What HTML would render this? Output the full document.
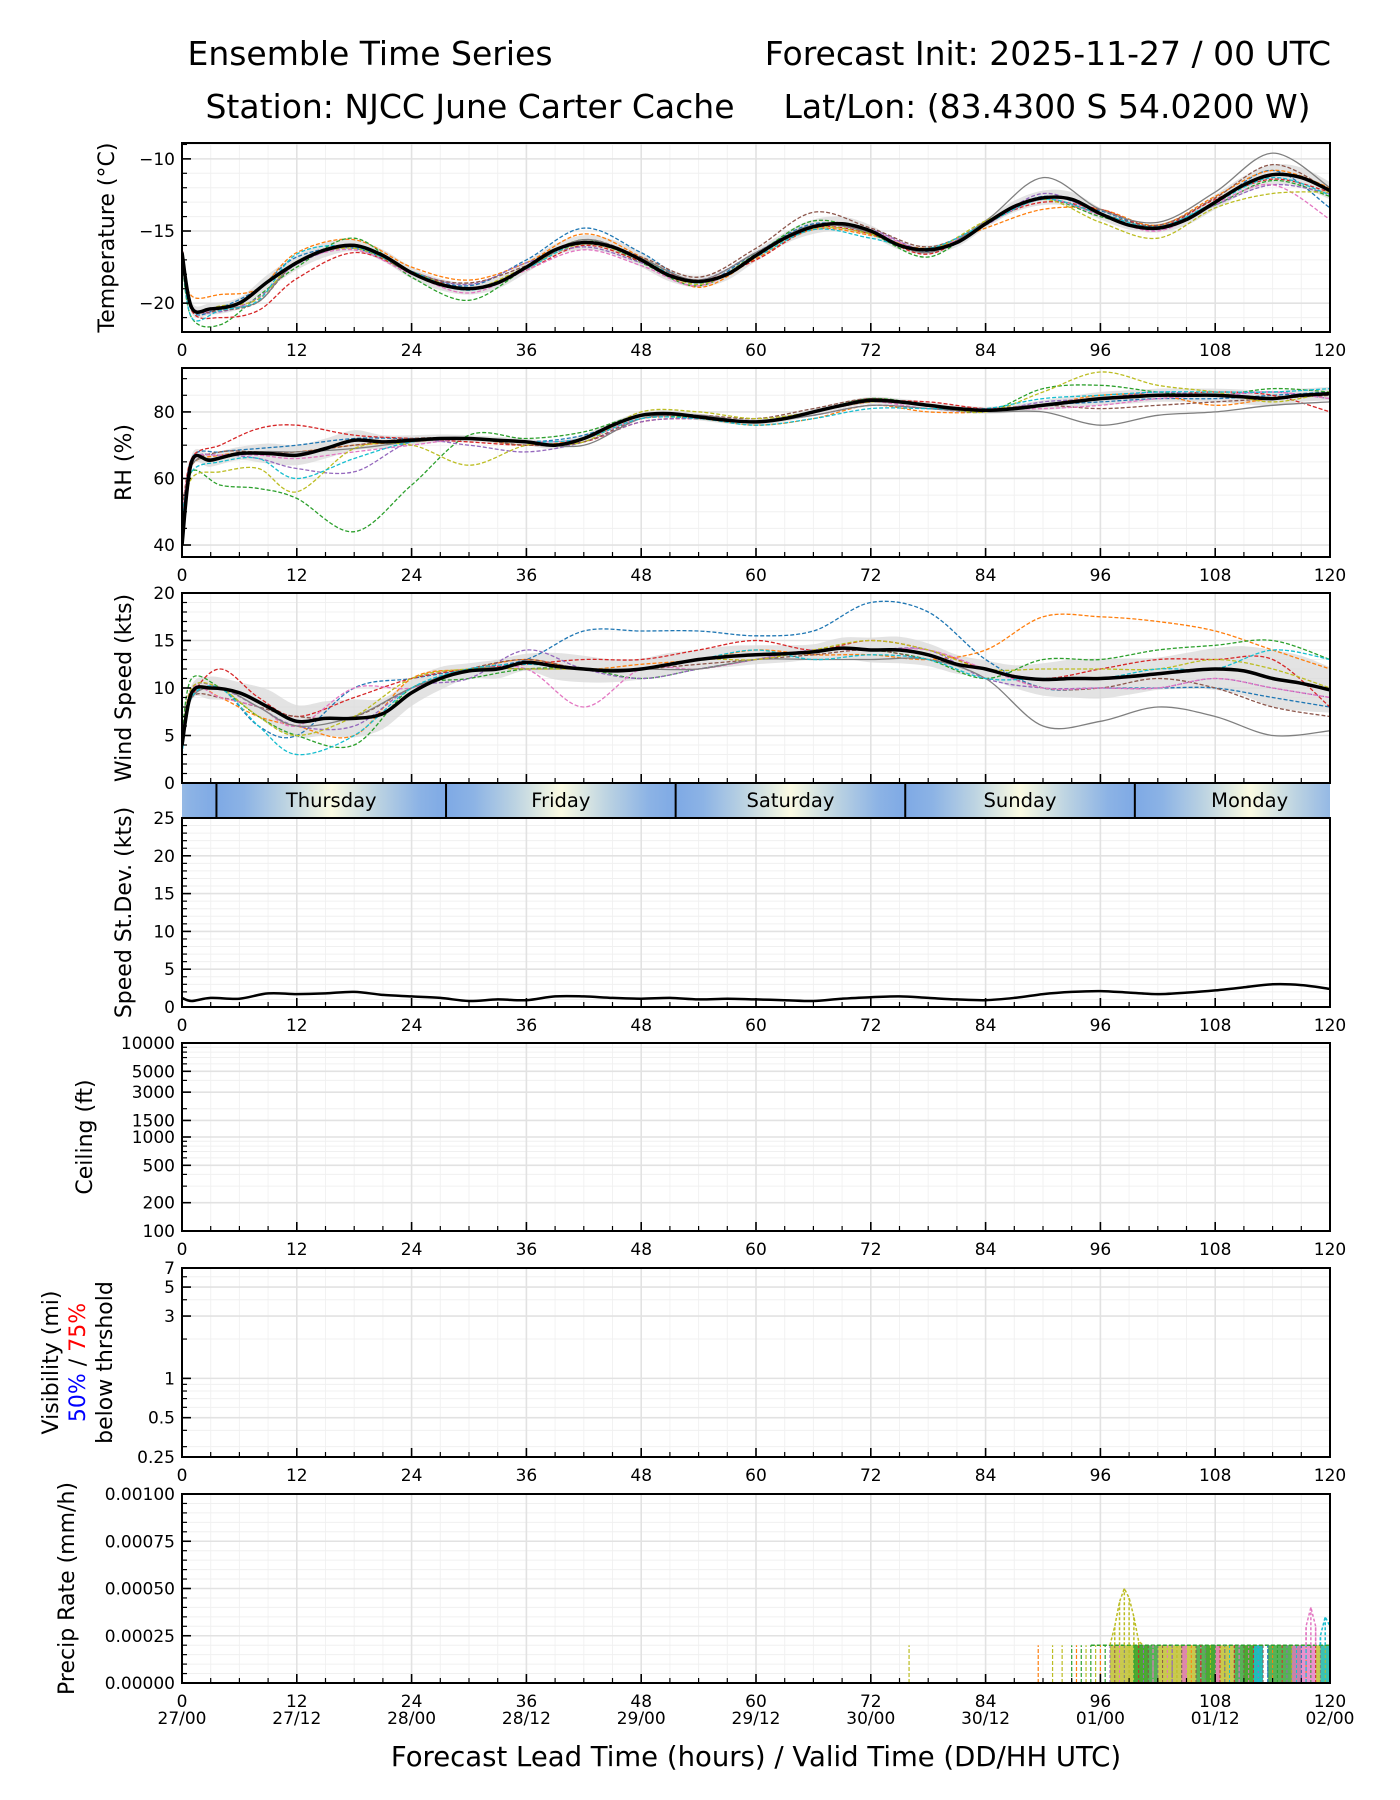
<!DOCTYPE html>
<html><head><meta charset="utf-8"><style>
html,body{margin:0;padding:0;background:#fff;}
svg{display:block;font-family:"DejaVu Sans","Liberation Sans",sans-serif;}
</style></head><body>
<svg id="fig" width="1400" height="1800" viewBox="0 0 1400 1800">
<text x="370" y="65" font-size="33" text-anchor="middle">Ensemble Time Series</text>
<text x="1331" y="65" font-size="33" text-anchor="end">Forecast Init: 2025-11-27 / 00 UTC</text>
<text x="470" y="118" font-size="33" text-anchor="middle">Station: NJCC June Carter Cache</text>
<text x="1047" y="118" font-size="33" text-anchor="middle">Lat/Lon: (83.4300 S 54.0200 W)</text>
<text x="756" y="1766" font-size="27.5" text-anchor="middle">Forecast Lead Time (hours) / Valid Time (DD/HH UTC)</text>
<g id="root"></g>
</svg>
<script>
// ---- data ----
const meanHours=[0,1,3,6,9,12,15,18,21,24,27,30,33,36,39,42,45,48,51,54,57,60,63,66,69,72,75,78,81,84,87,90,93,96,99,102,105,108,111,114,117,120];
const tempMean=[-16.5,-20.3,-20.4,-20.0,-18.5,-17.2,-16.3,-16.0,-16.7,-17.9,-18.7,-19.0,-18.6,-17.5,-16.3,-15.8,-16.1,-17.0,-18.1,-18.5,-18.0,-16.7,-15.5,-14.7,-14.5,-15.0,-16.0,-16.3,-15.8,-14.5,-13.3,-12.7,-12.8,-13.8,-14.6,-14.8,-14.2,-13.0,-11.8,-11.1,-11.3,-12.2];
const tempSpread=[0.5,0.4,0.4,0.4,0.5,0.5,0.5,0.4,0.4,0.4,0.4,0.4,0.4,0.4,0.4,0.5,0.5,0.5,0.4,0.4,0.4,0.4,0.4,0.5,0.5,0.4,0.3,0.3,0.3,0.3,0.4,0.5,0.5,0.4,0.3,0.3,0.4,0.5,0.6,0.7,0.7,0.6];
const rhMean=[40,65,65.5,67.5,67.5,67,69,71.5,71,71.5,72,72,71.5,71,70,72,76,79,79.5,78.5,77.5,77,78,80,82,83.5,83,82,81,80.5,81,82,83,84,84.5,85,85,85,84.5,84,85,85.5];
const rhSpread=[3,2,2,2,3,3,3,3,2,1.5,1.2,1,1,1,1.2,1.2,1,1,1,1,1,1,1,1,1,1,1,1,1,1,1.2,1.5,1.8,2,2,2,2,2,2.2,2.2,2,2];
const windMean=[4,9.5,10,9.5,8,6.5,6.8,6.8,7.3,9.5,11,11.8,12,12.7,12.3,12,11.8,12,12.5,13,13.3,13.5,13.6,13.8,14.2,14,14,13.5,12.5,12,11.2,10.9,11,11,11.2,11.5,11.8,12,11.8,11,10.5,9.8];
const stdevMean=[1.2,0.8,1.2,1.1,1.8,1.7,1.8,2.0,1.6,1.4,1.2,0.8,1.0,0.9,1.4,1.4,1.2,1.1,1.2,1.0,1.1,1.0,0.9,0.8,1.1,1.3,1.4,1.2,1.0,0.9,1.2,1.7,2.0,2.1,1.9,1.7,1.9,2.2,2.6,3.0,2.9,2.4];
const memberHours=[0,1,4,8,12,18,24,30,36,42,48,54,60,66,72,78,84,90,96,102,108,114,120];
const memberColors=['#1f77b4','#ff7f0e','#2ca02c','#d62728','#9467bd','#8c564b','#e377c2','#7f7f7f','#bcbd22','#17becf'];
const memberDashed=[true,true,true,true,true,true,true,false,true,true];
const tempM1=[-16,-20.5,-20.3,-19,-16.8,-16.2,-17.8,-18.8,-17,-14.8,-16.5,-18.6,-16.5,-14.5,-15.1,-16.4,-14.5,-12.6,-13.6,-14.7,-13,-10.8,-13.4];
const tempM2=[-17,-19.5,-19.4,-19,-16.5,-15.6,-17.5,-18.4,-17.2,-15.2,-16.8,-18.9,-16.9,-14.9,-15.3,-16.2,-14.8,-13.5,-13.5,-14.6,-12.6,-10.8,-12];
const tempM3=[-17,-21,-21.5,-19.5,-17.5,-15.5,-18.2,-19.8,-17.6,-15.6,-17.2,-18.8,-16.6,-14.3,-15.2,-16.8,-14.4,-12.8,-14,-14.8,-13.2,-11.5,-12.6];
const tempM4=[-16,-20.5,-21,-20.5,-18.3,-16.5,-17.8,-19,-17.7,-16,-17.1,-18.4,-17,-14.8,-15.2,-16.6,-14.4,-13,-13.5,-14.7,-12.8,-11.4,-12.3];
const tempM5=[-16.5,-20.2,-20.6,-19.6,-17.3,-16.1,-17.8,-18.7,-17.2,-16.1,-17.2,-18.4,-16.5,-14.6,-14.9,-16.3,-14.6,-12.4,-13.8,-14.9,-13.2,-11.8,-12.4];
const tempM6=[-16.5,-20.3,-20.5,-19.9,-17.2,-16,-17.9,-18.6,-17.4,-15.6,-16.8,-18.2,-16.2,-13.7,-14.8,-16.1,-14.5,-12.8,-13.8,-14.6,-12.7,-10.4,-12.2];
const tempM7=[-16.5,-20.4,-20.3,-19.7,-17.2,-16.3,-18,-19.3,-17.7,-16.3,-17.4,-18.8,-16.7,-14.6,-15,-16.3,-14.5,-12.8,-13.9,-15,-13.1,-11.8,-14.2];
const tempM8=[-16.5,-20.3,-20.3,-19.9,-17.1,-16,-17.9,-19,-17.6,-15.6,-16.9,-18.4,-16.5,-14.6,-15.1,-16.5,-14.3,-11.3,-13.5,-14.4,-12.3,-9.6,-12.0];
const tempM9=[-16.5,-20.4,-20.2,-19.7,-17.1,-16.2,-17.8,-19,-17.5,-15.9,-17,-18.7,-16.7,-14.8,-15.2,-16.3,-14.3,-12.8,-14.4,-15.5,-13.4,-12.4,-12.3];
const tempM10=[-16.5,-21,-20.5,-19.8,-16.6,-16.1,-17.8,-19.1,-17.6,-15.8,-17,-18.6,-16.8,-14.9,-15.5,-16.2,-14.5,-12.8,-13.8,-14.7,-13,-11.3,-12.5];
const rhM1=[45,66,68,69,70,72,72,72,71,73,79,79,77,80,83,82,80,82,83,84,84,85,86];
const rhM2=[50,64,67,68,68,70,71,72,70,72,78,78,76,78,82,80,80,82,85,85,82,84,85];
const rhM3=[45,62,58,57,54,44,58,73,72,74,79,78,77,80,84,82,80,87,88,86,85,87,86];
const rhM4=[48,66,70,75,76,73,72,71,70,71,77,78,77,80,83,83,81,82,84,85,86,85,80];
const rhM5=[45,65,67,66,63,62,71,70,68,71,77,78,77,79,82,81,80,83,84,86,85,86,84];
const rhM6=[50,64,68,68,68,70,72,72,70,71,78,79,78,81,84,82,81,82,81,82,83,84,85];
const rhM7=[47,65,67,67,66,68,70,72,71,72,78,79,77,80,83,81,81,81,82,84,85,86,84];
const rhM8=[45,64,66,68,68,69,71,72,71,70,78,79,77,79,82,81,80,80,76,79,80,82,83];
const rhM9=[45,60,62,63,56,69,70,64,70,71,80,80,78,80,83,82,80,86,92,88,86,83,86];
const rhM10=[48,62,65,66,60,66,71,72,71,72,78,78,76,78,81,81,81,84,85,86,86,86,87];
const windM1=[3,9,10,6,5,10,11,12,13,16,16,16,15.5,16,19,18,13,10,10,10,10,9,8];
const windM2=[4,10,9,7,6,5,11,12,13,12,12.5,13,14,13.5,13.5,13,14,17.5,17.5,17,16,14,12];
const windM3=[5,11,10,7,5,4,10,11,12,12,11,12,13,14,14,13,11,13,13,14,14.5,15,13];
const windM4=[4,9,12,9,7,9,11,12,12.5,13,13,14,15,14,15,14,12,11,12,13,13,13,8];
const windM5=[4,10,10,8,6,6,10,11,14,12,11,12,13,14,14,14,11,10,10,10,11,10,9];
const windM6=[4,9,9,8,7,7,10,12,13,12,12,12.5,13,13.5,14,13,12,10,10,11,10,8,7];
const windM7=[4,10,9,8,6,10,10,12,12,8,12,12,13,14,14,14,12,10,10,10,11,10,9];
const windM8=[4,9,10,8,6,7,10,12,12,12,12,12,13,13,13,13,11,6,6.5,8,7,5,5.5];
const windM9=[4,10,10,7,5,7,11,12,12,12,12,13,13,14,15,14,12,12,12,12,13,12,10];
const windM10=[3,9,10,6,3,5,10,12,12.5,12,12,13,14,13,13.5,13,11,11,11,12,12,14,13];
const precipLevel=0.0002;
const precipOliveRanges=[[97,101],[102,106],[107,110],[111,112],[118.5,120]];
const precipGreenRanges=[[99.5,102],[106,108],[110,113],[113.5,117]];
const precipPinkRanges=[[104.5,105],[108,108.5],[116,118.5]];
const precipCyanRanges=[[112,113],[119,120]];
const precipLineHours=[76,89.5,91,92,93,93.5,94,94.5,95,95.5,96,96.5,101.5,103.5,106.5,109,110.5,112.5,113.5,117.5];
const precipLineColors=['#bcbd22','#ff7f0e','#bcbd22','#bcbd22','#2ca02c','#ff7f0e','#2ca02c','#bcbd22','#2ca02c','#bcbd22','#ff7f0e','#2ca02c','#e377c2','#9467bd','#d62728','#7f7f7f','#e377c2','#17becf','#1f77b4','#17becf'];
const olivePeakHours=[97,97.5,98,98.5,99,99.5,100,100.5];
const olivePeakVals=[0.0002,0.0003,0.00043,0.0005,0.00045,0.00035,0.00022,0.0002];
const pinkPeakHours=[117.5,118,118.5];
const pinkPeakVals=[0.0003,0.0004,0.0003];
const cyanPeakHours=[119,119.5,120];
const cyanPeakVals=[0.00025,0.00035,0.0003];
const dayNames=['Thursday','Friday','Saturday','Sunday','Monday'];
const dayStartHours=[3.6,27.6,51.6,75.6,99.6];
const xTickHours=[0,12,24,36,48,60,72,84,96,108,120];
const dateLabels=['27/00','27/12','28/00','28/12','29/00','29/12','30/00','30/12','01/00','01/12','02/00'];

// ---- helpers ----
const NS='http://www.w3.org/2000/svg';
const root=document.getElementById('root');
const X0=182,X1=1330;
const xs=h=>X0+h/120*(X1-X0);
function mk(tag,attrs,parent){const e=document.createElementNS(NS,tag);for(const k in attrs)e.setAttribute(k,attrs[k]);(parent||root).appendChild(e);return e;}
function lin(lo,hi,top,bot){return v=>bot-(v-lo)/(hi-lo)*(bot-top);}
function logs(lo,hi,top,bot){return v=>bot-(Math.log(v)-Math.log(lo))/(Math.log(hi)-Math.log(lo))*(bot-top);}
function smooth(pts){let d='M'+pts[0][0].toFixed(1)+','+pts[0][1].toFixed(1);
 for(let i=0;i<pts.length-1;i++){const p0=pts[Math.max(0,i-1)],p1=pts[i],p2=pts[i+1],p3=pts[Math.min(pts.length-1,i+2)];
  const c1=[p1[0]+(p2[0]-p0[0])/6,p1[1]+(p2[1]-p0[1])/6],c2=[p2[0]-(p3[0]-p1[0])/6,p2[1]-(p3[1]-p1[1])/6];
  d+='C'+c1[0].toFixed(1)+','+c1[1].toFixed(1)+' '+c2[0].toFixed(1)+','+c2[1].toFixed(1)+' '+p2[0].toFixed(1)+','+p2[1].toFixed(1);}
 return d;}

function panel(name,top,bot,ys,major,minor,labels,ylabelLines,ylabelX,showX){
 const g=mk('g',{});
 
 
 for(let h=3;h<120;h+=3){if(h%12)mk('line',{x1:xs(h),x2:xs(h),y1:top,y2:bot,stroke:'#f2f2f2','stroke-width':1},g);}
 minor.forEach(v=>mk('line',{x1:X0,x2:X1,y1:ys(v),y2:ys(v),stroke:'#f0f0f0','stroke-width':1},g));
 xTickHours.forEach(h=>mk('line',{x1:xs(h),x2:xs(h),y1:top,y2:bot,stroke:'#e2e2e2','stroke-width':1.6},g));
 major.forEach(v=>mk('line',{x1:X0,x2:X1,y1:ys(v),y2:ys(v),stroke:'#e2e2e2','stroke-width':1.6},g));
 const plot=mk('g',{'clip-path':'url(#clip-'+name+')'},g);
 const cp=mk('clipPath',{id:'clip-'+name},g);mk('rect',{x:X0,y:top,width:X1-X0,height:bot-top},cp);
 const ax=mk('g',{},g);
 major.forEach((v,i)=>{mk('line',{x1:X0,x2:X0+9,y1:ys(v),y2:ys(v),stroke:'#000','stroke-width':1.6},ax);
  const t=mk('text',{x:X0-7,y:ys(v)+6,'font-size':17,'text-anchor':'end'},ax);t.textContent=labels[i];
  
  });
 minor.forEach(v=>mk('line',{x1:X0,x2:X0+5,y1:ys(v),y2:ys(v),stroke:'#000','stroke-width':1.2},ax));
 for(let h=3;h<120;h+=3){mk('line',{x1:xs(h),x2:xs(h),y1:bot,y2:bot-(h%12?5:9),stroke:'#000','stroke-width':h%12?1.2:1.6},ax);}
 if(showX){xTickHours.forEach(h=>{const t=mk('text',{x:xs(h),y:bot+24,'font-size':17,'text-anchor':'middle'},ax);t.textContent=h;
  
  });}
 mk('rect',{x:X0,y:top,width:X1-X0,height:bot-top,fill:'none',stroke:'#000','stroke-width':2},ax);
 const yl=mk('text',{transform:'translate('+ylabelX+','+((top+bot)/2)+') rotate(-90)','font-size':22,'text-anchor':'middle'},g);
 
 
 ylabelLines.forEach((ln,i)=>{const ts=mk('tspan',{x:0,dy:i?27:0},yl);
  if(Array.isArray(ln)){ln.forEach(p=>{const s=mk('tspan',{fill:p[1]},ts);s.textContent=p[0];});}else ts.textContent=ln;});
 return plot;}

function drawEnsemble(plot,name,ys,members,mean,spread){
 const up=meanHours.map((h,i)=>[xs(h),ys(mean[i]+spread[i])]);
 const dn=meanHours.map((h,i)=>[xs(h),ys(mean[i]-spread[i])]).reverse();
 const band=mk('path',{d:smooth(up)+'L'+smooth(dn).slice(1)+'Z',fill:'#d9d9d9','fill-opacity':0.75},plot);
 
 
 members.forEach((m,k)=>{const p=mk('path',{d:smooth(memberHours.map((h,i)=>[xs(h),ys(m[i])])),fill:'none',stroke:memberColors[k],'stroke-width':1.3,'stroke-dasharray':memberDashed[k]?'4,2':'none'},plot);
  
  });
 const ml=mk('path',{d:smooth(meanHours.map((h,i)=>[xs(h),ys(mean[i])])),fill:'none',stroke:'#000','stroke-width':3.5},plot);
 
 }

function range(a,b,s){const r=[];for(let v=a;v<=b+1e-9;v+=s)r.push(+v.toFixed(6));return r;}

// Temperature
let ys=lin(-22,-8.9,143,332);
let p=panel('temperature',143,332,ys,[-10,-15,-20],range(-22,-9,1).filter(v=>v%5),['−10','−15','−20'],['Temperature (°C)'],114,true);
drawEnsemble(p,'temperature',ys,[tempM1,tempM2,tempM3,tempM4,tempM5,tempM6,tempM7,tempM8,tempM9,tempM10],tempMean,tempSpread);
// RH
ys=lin(36.4,93.2,368,557);
p=panel('rh',368,557,ys,[40,60,80],range(40,90,5).filter(v=>v%20),['40','60','80'],['RH (%)'],131,true);
drawEnsemble(p,'rh',ys,[rhM1,rhM2,rhM3,rhM4,rhM5,rhM6,rhM7,rhM8,rhM9,rhM10],rhMean,rhSpread);
// Wind
ys=lin(0,20,593,783);
p=panel('wind-speed',593,783,ys,[0,5,10,15,20],range(1,19,1).filter(v=>v%5),['0','5','10','15','20'],['Wind Speed (kts)'],131,false);
drawEnsemble(p,'wind-speed',ys,[windM1,windM2,windM3,windM4,windM5,windM6,windM7,windM8,windM9,windM10],windMean,stdevMean);
// Day bar
(function(){const g=mk('g',{});
 
 
 const defs=mk('defs',{},g);const gr=mk('linearGradient',{id:'daygrad',x1:0,x2:1,y1:0,y2:0},defs);
 [[0,'#7ea9e5'],[0.12,'#8cb3e5'],[0.3,'#bcd3e2'],[0.5,'#fbfbe2'],[0.7,'#bcd3e2'],[0.88,'#8cb3e5'],[1,'#7ea9e5']].forEach(s=>mk('stop',{offset:s[0],'stop-color':s[1]},gr));
 const cp=mk('clipPath',{id:'clip-day'},g);mk('rect',{x:X0,y:784,width:X1-X0,height:33},cp);
 const inner=mk('g',{'clip-path':'url(#clip-day)'},g);
 [dayStartHours[0]-24].concat(dayStartHours).forEach(h=>mk('rect',{x:xs(h),y:784,width:xs(h+24)-xs(h)+0.5,height:33,fill:'url(#daygrad)'},inner));
 dayStartHours.forEach((h,i)=>{mk('line',{x1:xs(h),x2:xs(h),y1:784,y2:817,stroke:'#000','stroke-width':2},g);
  const t=mk('text',{x:xs(h+12),y:807,'font-size':19.5,'text-anchor':'middle'},g);t.textContent=dayNames[i];
  
  });})();
// StDev
ys=lin(0,25,818,1007);
p=panel('speed-stdev',818,1007,ys,[0,5,10,15,20,25],range(1,24,1).filter(v=>v%5),['0','5','10','15','20','25'],['Speed St.Dev. (kts)'],131,true);
(function(){const l=mk('path',{d:smooth(meanHours.map((h,i)=>[xs(h),ys(stdevMean[i])])),fill:'none',stroke:'#000','stroke-width':2.5},p);
 
 })();
// Ceiling
ys=logs(100,10000,1043,1231);
const ceilMinor=[300,400,600,700,800,900,2000,4000,6000,7000,8000,9000];
panel('ceiling',1043,1231,ys,[100,200,500,1000,1500,3000,5000,10000],ceilMinor,['100','200','500','1000','1500','3000','5000','10000'],['Ceiling (ft)'],92,true);
// Visibility
ys=logs(0.25,7,1268,1457);
panel('visibility',1268,1457,ys,[0.25,0.5,1,3,5,7],[0.3,0.4,0.6,0.7,0.8,0.9,2,4,6],['0.25','0.5','1','3','5','7'],['Visibility (mi)',[['50%','#0000ff'],[' / ','#000'],['75%','#ff0000']],'below thrshold'],58,true);
// Precip
ys=lin(0,0.001,1494,1683);
p=panel('precip-rate',1494,1683,ys,[0,0.00025,0.0005,0.00075,0.001],range(0.00005,0.00095,0.00005).filter(v=>Math.abs(v/0.00025-Math.round(v/0.00025))>0.01),['0.00000','0.00025','0.00050','0.00075','0.00100'],['Precip Rate (mm/h)'],74,true);
(function(){
 const groups=[[precipOliveRanges,'#bcbd22'],[precipGreenRanges,'#2ca02c'],[precipPinkRanges,'#e377c2'],[precipCyanRanges,'#17becf']];
 groups.forEach((gpair,gi)=>{gpair[0].forEach(r=>{
  const rc=mk('rect',{x:xs(r[0]),y:ys(precipLevel),width:xs(r[1])-xs(r[0]),height:ys(0)-ys(precipLevel),fill:gpair[1],'fill-opacity':0.8},p);
  
  
  for(let h=r[0];h<=r[1];h+=0.5){mk('line',{x1:xs(h),x2:xs(h),y1:ys(0),y2:ys(precipLevel),stroke:memberColors[(gi*3+Math.round(h*2))%10],'stroke-width':1,'stroke-dasharray':'3,2'},p);}
 });});
 mk('line',{x1:xs(95),x2:xs(120),y1:ys(precipLevel),y2:ys(precipLevel),stroke:'#2ca02c','stroke-width':1.5,'stroke-dasharray':'4,2'},p);
 precipLineHours.forEach((h,i)=>{const l=mk('line',{x1:xs(h),x2:xs(h),y1:ys(0),y2:ys(precipLevel),stroke:precipLineColors[i],'stroke-width':1.2,'stroke-dasharray':'4,2'},p);
  
  });
 [[olivePeakHours,olivePeakVals,'#bcbd22'],[pinkPeakHours,pinkPeakVals,'#e377c2'],[cyanPeakHours,cyanPeakVals,'#17becf']].forEach(pk=>{
  let d='M'+xs(pk[0][0])+','+ys(precipLevel);
  pk[0].forEach((h,i)=>{d+='L'+xs(h)+','+ys(pk[1][i]);});
  d+='L'+xs(pk[0][pk[0].length-1])+','+ys(precipLevel);
  const pp=mk('path',{d:d,fill:'none',stroke:pk[2],'stroke-width':1.5,'stroke-dasharray':'3,2'},p);
  
  
  pk[0].forEach((h,i)=>mk('line',{x1:xs(h),x2:xs(h),y1:ys(precipLevel),y2:ys(pk[1][i]),stroke:pk[2],'stroke-width':1.5,'stroke-dasharray':'3,2'},p));});
 dateLabels.forEach((s,i)=>{const t=mk('text',{x:xs(xTickHours[i]),y:1724,'font-size':17,'text-anchor':'middle'});t.textContent=s;
  
  });
})();
</script>
</body></html>
